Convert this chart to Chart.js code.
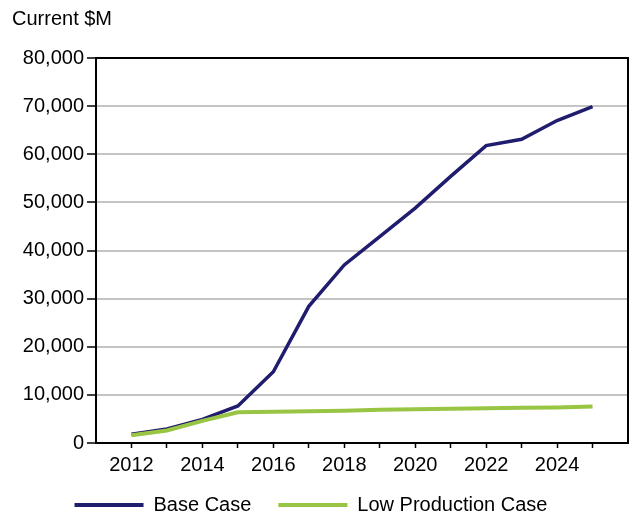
<!DOCTYPE html>
<html>
<head>
<meta charset="utf-8">
<script src="https://cdn.jsdelivr.net/npm/chart.js@4"></script>
<style>
  html, body { margin: 0; padding: 0; background: #fff; }
  #wrap { width: 632px; height: 516px; }
</style>
</head>
<body>
<div id="wrap"><canvas id="chart" width="632" height="516"></canvas></div>
<script>
const years = [2012, 2013, 2014, 2015, 2016, 2017, 2018, 2019, 2020, 2021, 2022, 2023, 2024, 2025];
const baseCase = [1800, 2900, 4900, 7700, 14800, 28400, 37000, 42900, 48800, 55400, 61800, 63100, 67000, 69900];
const lowProduction = [1600, 2600, 4600, 6400, 6500, 6600, 6700, 6900, 7000, 7100, 7200, 7300, 7400, 7600];
const seriesNames = ["Base Case", "Low Production Case"];
const seriesColors = ["#201c6e", "#99c544"];

const FONT = "'Liberation Sans', Arial, sans-serif";
const FS = 20;

function toPoints(vals) {
  return years.map((yr, i) => ({ x: yr, y: vals[i] }));
}

// black frame round the plot area; legend kept short and nudged up/left
const frame = {
  id: "frame",
  beforeLayout(chart) {
    const lg = chart.legend;
    if (lg && !lg._patched) {
      const fit = lg.fit;
      lg.fit = function () {
        fit.call(this);
        this.height = 38;
      };
      lg._patched = true;
    }
  },
  afterLayout(chart) {
    const lg = chart.legend;
    lg.top -= 10;
    lg.left -= 9; lg.right -= 9;
  },
  afterDatasetsDraw(chart) {
    const a = chart.chartArea;
    const ctx = chart.ctx;
    ctx.save();
    ctx.strokeStyle = "#000";
    ctx.lineWidth = 2;
    ctx.strokeRect(a.left, a.top, a.right - a.left, a.bottom - a.top);
    ctx.restore();
  }
};

new Chart(document.getElementById("chart").getContext("2d"), {
  type: "line",
  data: {
    datasets: [
      {
        label: seriesNames[0],
        data: toPoints(baseCase),
        borderColor: seriesColors[0],
        backgroundColor: seriesColors[0],
        borderWidth: 3.5,
        pointRadius: 0,
        tension: 0,
        fill: false,
        order: 1
      },
      {
        label: seriesNames[1],
        data: toPoints(lowProduction),
        borderColor: seriesColors[1],
        backgroundColor: seriesColors[1],
        borderWidth: 4,
        pointRadius: 0,
        tension: 0,
        fill: false,
        order: 0
      }
    ]
  },
  options: {
    responsive: false,
    animation: false,
    layout: { padding: { top: 0, left: 12, right: 4, bottom: 0 } },
    plugins: {
      tooltip: { enabled: false },
      title: {
        display: true,
        text: "Current $M",
        align: "start",
        color: "#000",
        font: { family: FONT, size: FS, weight: "normal" },
        padding: { top: 7, bottom: 27 }
      },
      legend: {
        position: "bottom",
        labels: {
          color: "#000",
          font: { family: FONT, size: FS },
          boxWidth: 69,
          boxHeight: 4,
          padding: 27,
          generateLabels: (chart) => chart.data.datasets.map((ds, i) => ({
            text: ds.label,
            fillStyle: ds.borderColor,
            strokeStyle: ds.borderColor,
            lineWidth: 0,
            datasetIndex: i,
            hidden: false
          }))
        }
      }
    },
    scales: {
      x: {
        type: "linear",
        min: 2011,
        max: 2026,
        afterBuildTicks: (scale) => {
          scale.ticks = scale.ticks.filter(t => t.value >= years[0] && t.value <= years[years.length - 1]);
        },
        afterFit: (scale) => { scale.height = 35; },
        ticks: {
          stepSize: 1,
          autoSkip: false,
          maxRotation: 0,
          padding: 5,
          color: "#000",
          font: { family: FONT, size: FS },
          callback: (v) => (v % 2 === 0 && v <= 2024) ? String(v) : ""
        },
        grid: {
          drawOnChartArea: false,
          drawTicks: true,
          tickLength: 5,
          tickColor: "#000",
          tickWidth: 1.5
        },
        border: { display: true, color: "#000", width: 2 }
      },
      y: {
        min: 0,
        max: 80000,
        afterFit: (scale) => { scale.width = 84; },
        ticks: {
          stepSize: 10000,
          padding: 3,
          color: "#000",
          font: { family: FONT, size: FS },
          callback: (v) => v.toLocaleString("en-US")
        },
        grid: {
          color: "#c4c4c4",
          lineWidth: 2,
          tickLength: 9,
          tickColor: "#000",
          tickWidth: 1.5
        },
        border: { display: true, color: "#000", width: 2 }
      }
    }
  },
  plugins: [frame]
});
</script>
</body>
</html>
